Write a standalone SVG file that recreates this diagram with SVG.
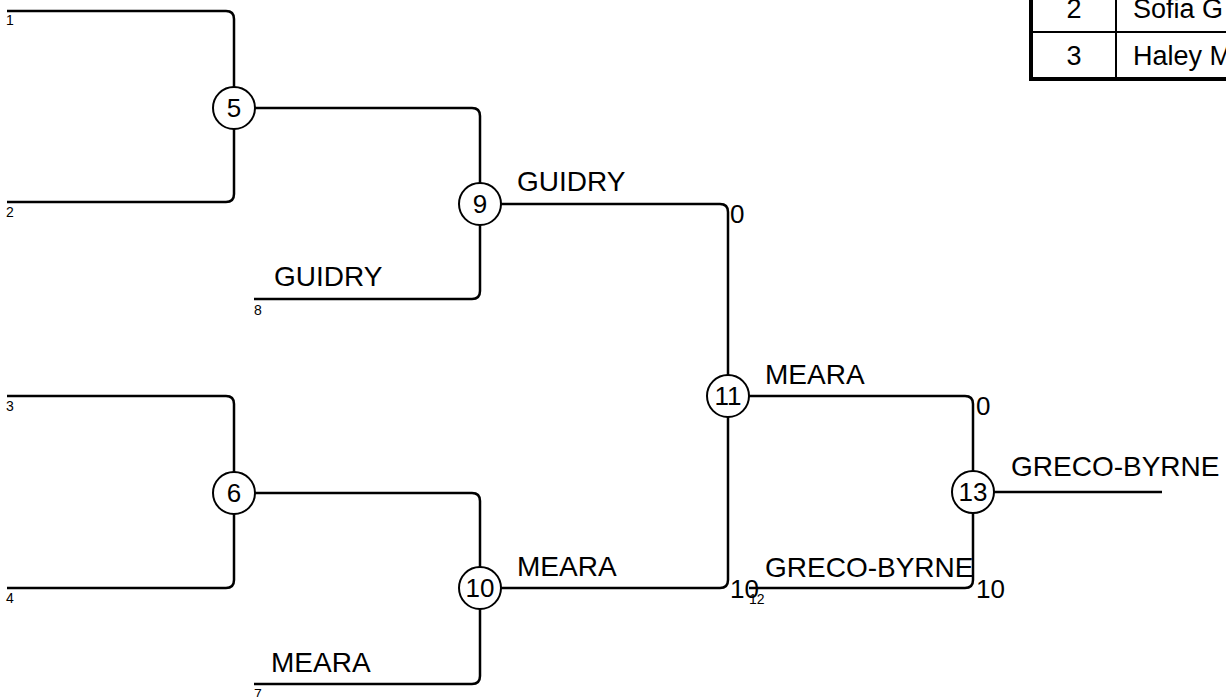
<svg xmlns="http://www.w3.org/2000/svg" width="1226" height="697" viewBox="0 0 1226 697">
<style>
.c{fill:none;stroke:#000;stroke-width:2.5;stroke-linejoin:round}
.n circle{fill:#fff;stroke:#000;stroke-width:2}
text{font-family:"Liberation Sans",Arial,sans-serif;fill:#000}
.num{font-size:26px;text-anchor:middle}
.nm{font-size:28px}
.sc{font-size:26px}
.sd{font-size:14px}
.tb{font-size:27px}
</style>
<rect width="1226" height="697" fill="#fff"/>
<g id="table">
<rect x="1031" y="-20" width="220" height="99" fill="#fff" stroke="#000" stroke-width="4"/>
<line x1="1031" y1="32" x2="1226" y2="32" stroke="#000" stroke-width="2"/>
<line x1="1116" y1="-20" x2="1116" y2="79" stroke="#000" stroke-width="2"/>
<text class="tb" x="1074" y="18" text-anchor="middle">2</text>
<text class="tb" x="1133" y="18">Sofia G</text>
<text class="tb" x="1074" y="65" text-anchor="middle">3</text>
<text class="tb" x="1133" y="65">Haley M</text>
</g>
<g id="connectors">
<path class="c" d="M7 11 H226 Q234 11 234 19 V87"/>
<path class="c" d="M7 202 H226 Q234 202 234 194 V129"/>
<path class="c" d="M255 108 H472 Q480 108 480 116 V183"/>
<path class="c" d="M254 299 H472 Q480 299 480 291 V225"/>
<path class="c" d="M501 204 H720 Q728 204 728 212 V375"/>
<path class="c" d="M501 588 H720 Q728 588 728 580 V417"/>
<path class="c" d="M7 396 H226 Q234 396 234 404 V472"/>
<path class="c" d="M7 588 H226 Q234 588 234 580 V514"/>
<path class="c" d="M255 493 H472 Q480 493 480 501 V567"/>
<path class="c" d="M254 684 H472 Q480 684 480 676 V609"/>
<path class="c" d="M749 396 H965 Q973 396 973 404 V471"/>
<path class="c" d="M749 588 H965 Q973 588 973 580 V513"/>
<path class="c" d="M994 492 H1162"/>
</g>
<g id="seeds">
<text class="sd" x="6" y="25">1</text>
<text class="sd" x="6" y="217">2</text>
<text class="sd" x="6" y="411">3</text>
<text class="sd" x="6" y="603">4</text>
<text class="sd" x="254" y="699">7</text>
<text class="sd" x="254" y="315">8</text>
<text class="sd" x="749" y="604">12</text>
</g>
<g id="labels">
<text class="nm" x="274" y="286">GUIDRY</text>
<text class="nm" x="517" y="191">GUIDRY</text>
<text class="nm" x="271" y="672">MEARA</text>
<text class="nm" x="517" y="576">MEARA</text>
<text class="nm" x="765" y="384">MEARA</text>
<text class="nm" x="765" y="577">GRECO-BYRNE</text>
<text class="nm" x="1011" y="476">GRECO-BYRNE</text>
<text class="sc" x="730" y="223">0</text>
<text class="sc" x="730" y="598">10</text>
<text class="sc" x="976" y="415">0</text>
<text class="sc" x="976" y="598">10</text>
</g>
<g id="n5" class="n"><circle cx="234" cy="108" r="21"/><text class="num" x="234" y="117">5</text></g>
<g id="n6" class="n"><circle cx="234" cy="493" r="21"/><text class="num" x="234" y="502">6</text></g>
<g id="n9" class="n"><circle cx="480" cy="204" r="21"/><text class="num" x="480" y="213">9</text></g>
<g id="n10" class="n"><circle cx="480" cy="588" r="21"/><text class="num" x="480" y="597">10</text></g>
<g id="n11" class="n"><circle cx="728" cy="396" r="21"/><text class="num" x="728" y="405">11</text></g>
<g id="n13" class="n"><circle cx="973" cy="492" r="21"/><text class="num" x="973" y="501">13</text></g>
</svg>
